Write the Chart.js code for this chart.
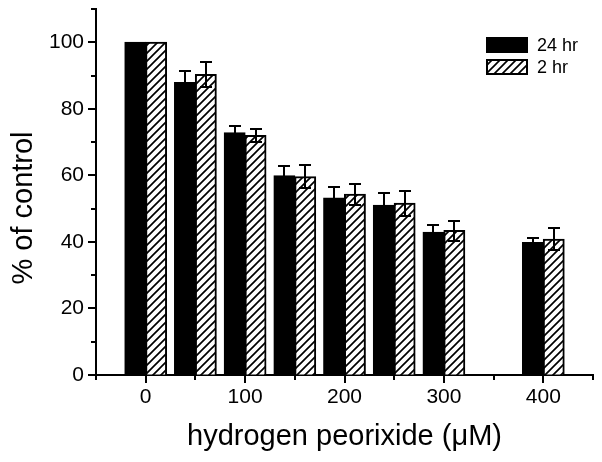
<!DOCTYPE html>
<html>
<head>
<meta charset="utf-8">
<script src="https://cdn.jsdelivr.net/npm/chart.js@4.4.0/dist/chart.umd.min.js"></script>
<style>
  html, body { margin: 0; padding: 0; background: #fff; }
</style>
</head>
<body>
<canvas id="chart" width="602" height="462"></canvas>
<script>
// data
const doses = [0, 50, 100, 150, 200, 250, 300, 400];
const seriesLabels = ['24 hr', '2 hr'];
const values24 = [100, 87.9, 72.8, 59.9, 53.2, 51.0, 42.9, 39.8];
const errors24 = [0, 3.5, 2.1, 3.0, 3.4, 3.7, 2.2, 1.5];
const values2 = [100, 90.3, 72.0, 59.6, 54.3, 51.6, 43.4, 40.8];
const errors2 = [0, 3.8, 2.0, 3.5, 3.2, 3.8, 3.0, 3.3];
const xTickLabels = [0, 100, 200, 300, 400];
const yTickLabels = [0, 20, 40, 60, 80, 100];

const FONT = '"Liberation Sans", Arial, Helvetica, sans-serif';
Chart.defaults.font.family = FONT;
Chart.defaults.color = '#000';

const canvas = document.getElementById('chart');

function makeHatch() {
  const c = document.createElement('canvas');
  c.width = 8; c.height = 8;
  const g = c.getContext('2d');
  g.fillStyle = '#fff';
  g.fillRect(0, 0, 8, 8);
  g.strokeStyle = '#000';
  g.lineWidth = 1.7;
  g.beginPath();
  g.moveTo(-2, 10); g.lineTo(10, -2);
  g.moveTo(-2, 2); g.lineTo(2, -2);
  g.moveTo(6, 10); g.lineTo(10, 6);
  g.stroke();
  return canvas.getContext('2d').createPattern(c, 'repeat');
}

const toPoints = vals => doses.map((d, i) => ({ x: d, y: vals[i] }));

const errorBars = {
  id: 'errorBars',
  afterDatasetsDraw(chart) {
    const ctx = chart.ctx;
    const y = chart.scales.y;
    ctx.save();
    ctx.strokeStyle = '#000';
    ctx.lineWidth = 2;
    chart.data.datasets.forEach((ds, di) => {
      const meta = chart.getDatasetMeta(di);
      meta.data.forEach((bar, i) => {
        const e = ds.errors[i];
        if (!e) return;
        const v = ds.data[i].y;
        const top = Math.round(y.getPixelForValue(v + e));
        const bot = Math.round(y.getPixelForValue(v - e));
        const cx = Math.round(bar.x);
        ctx.beginPath();
        ctx.moveTo(cx, top); ctx.lineTo(cx, bot);
        ctx.moveTo(cx - 6, top); ctx.lineTo(cx + 6, top);
        ctx.moveTo(cx - 6, bot); ctx.lineTo(cx + 6, bot);
        ctx.stroke();
      });
    });
    ctx.restore();
  }
};

// major / minor tick marks drawn on the scale positions
const axisTicks = {
  id: 'axisTicks',
  afterDraw(chart) {
    const { ctx, chartArea: a, scales: { x, y } } = chart;
    ctx.save();
    ctx.strokeStyle = '#000';
    ctx.lineWidth = 2;
    ctx.beginPath();
    x.ticks.forEach(t => {
      const p = Math.round(x.getPixelForValue(t.value));
      const len = xTickLabels.includes(t.value) ? 8 : 5;
      ctx.moveTo(p, a.bottom); ctx.lineTo(p, a.bottom + len);
    });
    y.ticks.forEach(t => {
      const p = Math.round(y.getPixelForValue(t.value));
      const len = yTickLabels.includes(t.value) ? 8 : 5;
      ctx.moveTo(a.left, p); ctx.lineTo(a.left - len, p);
    });
    ctx.stroke();
    ctx.restore();
  }
};

const boxLegend = {
  id: 'boxLegend',
  afterDraw(chart) {
    const ctx = chart.ctx, a = chart.chartArea;
    const x0 = a.right - 107, y0 = a.top + 28;
    ctx.save();
    chart.data.datasets.forEach((ds, i) => {
      const yy = y0 + i * 22;
      ctx.fillStyle = ds.backgroundColor;
      ctx.fillRect(x0, yy, 42, 16);
      ctx.strokeStyle = '#000';
      ctx.lineWidth = 2;
      ctx.strokeRect(x0 + 1, yy + 1, 40, 14);
      ctx.fillStyle = '#000';
      ctx.font = '18px ' + FONT;
      ctx.textBaseline = 'middle';
      ctx.textAlign = 'left';
      ctx.fillText(ds.label, x0 + 51, yy + 9);
    });
    ctx.restore();
  }
};

const yTitle = {
  id: 'yTitle',
  afterDraw(chart) {
    const ctx = chart.ctx;
    ctx.save();
    ctx.translate(32, 208);
    ctx.rotate(-Math.PI / 2);
    ctx.fillStyle = '#000';
    ctx.font = '29px ' + FONT;
    ctx.textAlign = 'center';
    ctx.textBaseline = 'alphabetic';
    ctx.fillText('% of control', 0, 0);
    ctx.restore();
  }
};

new Chart(canvas, {
  type: 'bar',
  data: {
    datasets: [
      {
        label: seriesLabels[0],
        data: toPoints(values24),
        errors: errors24,
        backgroundColor: '#000',
        borderColor: '#000',
        borderWidth: 2,
        inflateAmount: 0.5
      },
      {
        label: seriesLabels[1],
        data: toPoints(values2),
        errors: errors2,
        backgroundColor: makeHatch(),
        borderColor: '#000',
        borderWidth: 2,
        inflateAmount: 0.5
      }
    ]
  },
  options: {
    responsive: false,
    animation: false,
    categoryPercentage: 0.84,
    barPercentage: 1.0,
    layout: { padding: { top: 9, right: 9, left: 0, bottom: 0 } },
    plugins: {
      legend: { display: false },
      tooltip: { enabled: false }
    },
    scales: {
      x: {
        type: 'linear',
        min: -50,
        max: 450,
        offset: false,
        afterFit(scale) {
          scale.height = 87;
          scale.paddingLeft = 0;
          scale.paddingRight = 0;
        },
        border: { display: true, color: '#000', width: 2 },
        grid: { drawOnChartArea: false, drawTicks: true, tickLength: 8, color: 'rgba(0,0,0,0)' },
        ticks: {
          stepSize: 50,
          autoSkip: false,
          maxRotation: 0,
          padding: 2,
          font: { size: 21 },
          callback: v => xTickLabels.includes(v) ? String(v) : ''
        },
        title: {
          display: true,
          text: 'hydrogen peorixide (\u03BCM)',
          font: { size: 29 },
          padding: { top: 0, bottom: 8 }
        }
      },
      y: {
        min: 0,
        max: 110,
        afterFit(scale) {
          scale.width = 96;
          scale.paddingTop = 0;
          scale.paddingBottom = 0;
        },
        border: { display: true, color: '#000', width: 2 },
        grid: { drawOnChartArea: false, drawTicks: true, tickLength: 8, color: 'rgba(0,0,0,0)' },
        ticks: {
          stepSize: 10,
          autoSkip: false,
          padding: 4,
          font: { size: 21 },
          callback: v => yTickLabels.includes(v) ? String(v) : ''
        }
      }
    }
  },
  plugins: [errorBars, axisTicks, boxLegend, yTitle]
});
</script>
</body>
</html>
